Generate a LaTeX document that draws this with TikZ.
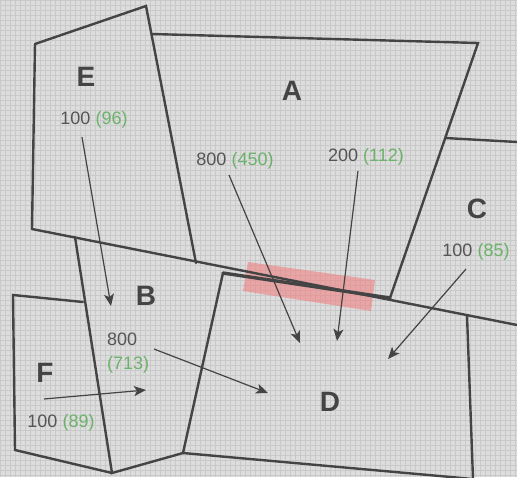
\documentclass[tikz,border=0pt]{standalone}
\usepackage{fontspec}
\setmainfont{Liberation Sans}
\usetikzlibrary{arrows.meta}
\definecolor{bg}{RGB}{221,221,221}
\definecolor{gridc}{RGB}{201,201,201}
\definecolor{ln}{RGB}{68,68,68}
\definecolor{txt}{RGB}{85,85,85}
\definecolor{grn}{RGB}{108,178,108}
\definecolor{pinkc}{RGB}{240,128,128}
\begin{document}
\begin{tikzpicture}[x=1pt,y=-1pt,
 wall/.style={draw=ln,line width=2.4pt,line join=miter,line cap=round},
 thickwall/.style={draw=ln,line width=3.4pt,line cap=round},
 zone/.style={font=\bfseries\fontsize{28}{28}\selectfont,text=ln,inner sep=0pt},
 flow/.style={font=\fontsize{18}{24}\selectfont,text=txt,inner sep=0pt},
 arr/.style={draw=ln,line width=1.2pt,-{Stealth[length=12pt,width=10pt,inset=3pt]}}]
\useasboundingbox (0,0) rectangle (517,477);
\fill[bg] (0,0) rectangle (517,477);
\foreach \i in {0,5,...,515} \draw[gridc,line width=0.7pt] (\i,0) -- (\i,477);
\foreach \j in {0,5,...,475} \draw[gridc,line width=0.7pt] (0,\j) -- (517,\j);
% highlight band
\fill[pinkc,opacity=0.6] (248,262) -- (375,280) -- (371,311) -- (243,291) -- cycle;
% walls
\draw[wall] (35,44) -- (146,6) -- (196,263);
\draw[wall] (35,44) -- (32,229);
\draw[wall] (32,229) -- (517,325);
\draw[thickwall] (223,273) -- (390,298);
\draw[wall] (152,34) -- (478,43) -- (390,298);
\draw[wall] (445,138) -- (517,142);
\draw[wall] (75,237) -- (112,473) -- (183,453) -- (223,273);
\draw[wall] (83,302) -- (13,295) -- (15,450) -- (112,473);
\draw[wall] (183,453) -- (473,479);
\draw[wall] (467,315) -- (473,479);
% zone letters
\node[zone] (E) at (86,77) {E};
\node[zone] (A) at (292,91) {A};
\node[zone] (C) at (477,209) {C};
\node[zone] (B) at (146,296) {B};
\node[zone] (D) at (330,402) {D};
\node[zone] (F) at (45,373) {F};
% flow labels
\node[flow] (fE) at (94,120) {100 \textcolor{grn}{(96)}};
\node[flow] (fA1) at (235,161) {800 \textcolor{grn}{(450)}};
\node[flow] (fA2) at (366,157) {200 \textcolor{grn}{(112)}};
\node[flow] (fC) at (476,252) {100 \textcolor{grn}{(85)}};
\node[flow,align=left,anchor=west] (fB) at (107,353) {800\\\textcolor{grn}{(713)}};
\node[flow] (fF) at (61,423) {100 \textcolor{grn}{(89)}};
% arrow end points
\coordinate (sE) at (82,137);  \coordinate (tE) at (111,306);
\coordinate (sA1) at (229,175); \coordinate (tA1) at (300,343);
\coordinate (sA2) at (358,171); \coordinate (tA2) at (337,341);
\coordinate (sC) at (466,269); \coordinate (tC) at (388,359);
\coordinate (sB) at (154,349); \coordinate (tB) at (268,393);
\coordinate (sF) at (44,399); \coordinate (tF) at (146,390);
\draw[arr] (sE) -- (tE);
\draw[arr] (sA1) -- (tA1);
\draw[arr] (sA2) -- (tA2);
\draw[arr] (sC) -- (tC);
\draw[arr] (sB) -- (tB);
\draw[arr] (sF) -- (tF);
\end{tikzpicture}
\end{document}
